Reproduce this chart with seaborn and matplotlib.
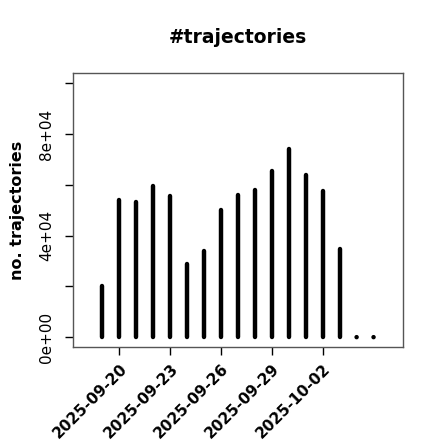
import numpy as np
import pandas as pd
import seaborn as sns
import matplotlib
matplotlib.use("Agg")
import matplotlib.pyplot as plt

# daily trajectory counts
days = pd.date_range("2025-09-19", "2025-10-05", freq="D")
counts = [20200, 54000, 53200, 59500, 55600, 29000, 34000, 50100,
          56000, 57900, 65500, 74000, 63800, 57500, 34800, 0, 0]
tick_days = pd.to_datetime(["2025-09-20", "2025-09-23", "2025-09-26",
                            "2025-09-29", "2025-10-02"])
y_ticks = [0, 20000, 40000, 60000, 80000, 100000]
y_labels = ["0e+00", "", "4e+04", "", "8e+04", ""]

df = pd.DataFrame({"day": days, "n": counts})

sns.set_style("ticks")
plt.rcParams["font.family"] = ["DejaVu Sans"]
plt.rcParams["text.color"] = "black"
plt.rcParams["axes.labelcolor"] = "black"
plt.rcParams["xtick.color"] = "black"
plt.rcParams["ytick.color"] = "black"

fig = plt.figure(figsize=(4.4, 4.4), dpi=100)
ax = fig.add_axes([0.1667, 0.2107, 0.7485, 0.6227])

# stems (R type="h" style)
stems = ax.vlines(df["day"], 0, df["n"], colors="black", linewidth=3.2)
stems.set_capstyle("round")
# zero days show up as dots only
zeros = df[df["n"] == 0]
sns.scatterplot(data=zeros, x="day", y="n", ax=ax, color="black", s=10,
                edgecolor="none", zorder=3)

x0 = pd.Timestamp("2025-09-18") - pd.Timedelta(hours=0.72 * 24)
x1 = pd.Timestamp("2025-10-06") + pd.Timedelta(hours=0.72 * 24)
ax.set_xlim(x0, x1)
ax.set_ylim(-4000, 104000)

ax.set_xticks(tick_days)
ax.set_xticklabels([d.strftime("%Y-%m-%d") for d in tick_days],
                   rotation=45, ha="right", rotation_mode="anchor",
                   fontweight="bold", fontsize=11)
ax.set_yticks(y_ticks)
ax.set_yticklabels(y_labels, rotation=90, va="center", fontsize=11)
ax.tick_params(axis="both", direction="out", length=6, width=1.0, pad=4)
ax.tick_params(axis="y", pad=8)

for s in ax.spines.values():
    s.set_color("#555555")
    s.set_linewidth(1.0)

ax.set_xlabel("")
ax.set_ylabel("no. trajectories", fontweight="bold", fontsize=11.5,
              labelpad=10)
ax.set_title("#trajectories", fontweight="bold", fontsize=13.5, pad=22)

fig.savefig("out.png", dpi=100)
